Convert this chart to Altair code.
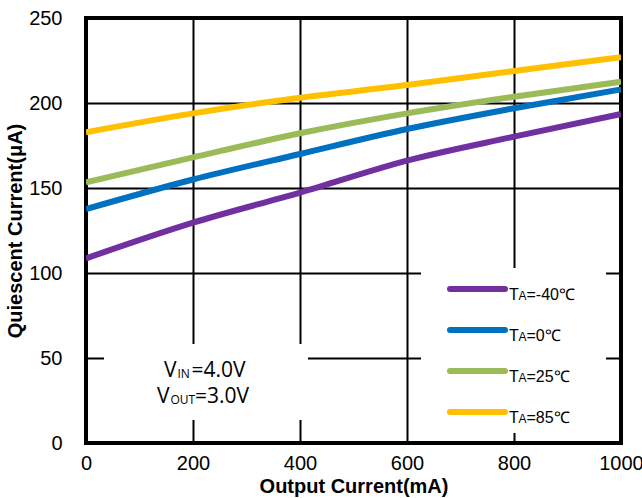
import altair as alt
import pandas as pd

# Quiescent current vs output current at four ambient temperatures
output_ma = [0, 200, 400, 600, 800, 1000]
iq_m40 = [108.6, 129.6, 147.3, 166.1, 180.2, 193.5]
iq_0 = [137.6, 155.0, 170.0, 184.7, 196.9, 208.0]
iq_25 = [153.3, 168.0, 182.2, 193.9, 203.7, 212.5]
iq_85 = [182.8, 193.9, 203.1, 210.6, 218.8, 226.9]

series_names = ["TA=-40℃", "TA=0℃", "TA=25℃", "TA=85℃"]
series_temps = ["=-40℃", "=0℃", "=25℃", "=85℃"]
series_colors = ["#7030A0", "#0070C0", "#9BBB59", "#FFC000"]
series_values = [iq_m40, iq_0, iq_25, iq_85]

x_ticks = [0, 200, 400, 600, 800, 1000]
y_ticks = [0, 50, 100, 150, 200, 250]

# plot-area geometry (pixels)
W, H = 535, 425
LEFT, TOP = 86, 18
X_MAX, Y_MAX = 1000, 250


def px_x(px):
    """page x pixel -> data x"""
    return (px - LEFT) / W * X_MAX


def px_y(py):
    """page y pixel -> data y"""
    return (TOP + H - py) / H * Y_MAX


rows = []
for name, vals in zip(series_names, series_values):
    for xv, yv in zip(output_ma, vals):
        rows.append({"Output": xv, "Iq": yv, "Series": name})
df = pd.DataFrame(rows)

x_scale = alt.Scale(domain=[0, X_MAX], nice=False, zero=False)
y_scale = alt.Scale(domain=[0, Y_MAX], nice=False, zero=False)
color_scale = alt.Scale(domain=series_names, range=series_colors)

axis_common = dict(
    grid=True, gridColor="black", gridWidth=2, gridOpacity=1,
    domain=False, ticks=False, labelFlush=False, format="d",
    labelFont="Liberation Sans", labelFontSize=20, labelColor="black",
    titleFont="Liberation Sans", titleFontSize=20, titleFontWeight="bold",
    titleColor="black",
)

base = alt.Chart(df)

lines = base.mark_line(strokeWidth=6, interpolate="monotone", clip=True).encode(
    x=alt.X("Output:Q", scale=x_scale,
            axis=alt.Axis(values=x_ticks, title="Output Current(mA)",
                          labelPadding=10, titlePadding=3, **axis_common)),
    y=alt.Y("Iq:Q", scale=y_scale,
            axis=alt.Axis(values=y_ticks, title="Quiescent Current(μA)",
                          labelPadding=24, titlePadding=3, **axis_common)),
    color=alt.Color("Series:N", scale=color_scale, legend=None),
    detail="Series:N",
)

# white panels behind the annotation and the key
boxes_df = pd.DataFrame([
    {"x0": px_x(104), "x1": px_x(308), "y0": px_y(420), "y1": px_y(344)},
    {"x0": px_x(421), "x1": px_x(606), "y0": px_y(433), "y1": px_y(268)},
])
boxes = alt.Chart(boxes_df).mark_rect(fill="white").encode(
    x=alt.X("x0:Q", scale=x_scale), x2="x1:Q",
    y=alt.Y("y0:Q", scale=y_scale), y2="y1:Q",
)

# key: coloured strokes and labels
row_py = [289, 330, 371, 412]
key_df = pd.DataFrame({
    "Series": series_names,
    "x0": [px_x(450)] * 4,
    "x1": [px_x(505)] * 4,
    "y": [px_y(p) for p in row_py],
})
key_lines = alt.Chart(key_df).mark_rule(strokeWidth=6, strokeCap="round").encode(
    x=alt.X("x0:Q", scale=x_scale), x2="x1:Q",
    y=alt.Y("y:Q", scale=y_scale),
    color=alt.Color("Series:N", scale=color_scale, legend=None),
)

big_txt = []
small_txt = []
for p, temp in zip(row_py, series_temps):
    big_txt.append({"x": px_x(509), "y": px_y(p + 11), "t": "T"})
    small_txt.append({"x": px_x(518.5), "y": px_y(p + 11), "t": "A"})
    big_txt.append({"x": px_x(526.5), "y": px_y(p + 11), "t": temp})

key_big = alt.Chart(pd.DataFrame(big_txt)).mark_text(
    align="left", baseline="alphabetic", font="Liberation Sans",
    fontSize=16, color="black").encode(
    x=alt.X("x:Q", scale=x_scale), y=alt.Y("y:Q", scale=y_scale), text="t:N")
key_small = alt.Chart(pd.DataFrame(small_txt)).mark_text(
    align="left", baseline="alphabetic", font="Liberation Sans",
    fontSize=12, color="black").encode(
    x=alt.X("x:Q", scale=x_scale), y=alt.Y("y:Q", scale=y_scale), text="t:N")

# supply conditions annotation
cond_big = pd.DataFrame([
    {"x": px_x(164), "y": px_y(377), "t": "V"},
    {"x": px_x(191.5), "y": px_y(377), "t": "=4.0V"},
    {"x": px_x(157), "y": px_y(403), "t": "V"},
    {"x": px_x(195), "y": px_y(403), "t": "=3.0V"},
])
cond_small = pd.DataFrame([
    {"x": px_x(177.5), "y": px_y(378), "t": "IN"},
    {"x": px_x(170.5), "y": px_y(404), "t": "OUT"},
])
cond_big_txt = alt.Chart(cond_big).mark_text(
    align="left", baseline="alphabetic", font="Open Sans",
    fontSize=21, color="black").encode(
    x=alt.X("x:Q", scale=x_scale), y=alt.Y("y:Q", scale=y_scale), text="t:N")
cond_small_txt = alt.Chart(cond_small).mark_text(
    align="left", baseline="alphabetic", font="Open Sans",
    fontSize=12, color="black").encode(
    x=alt.X("x:Q", scale=x_scale), y=alt.Y("y:Q", scale=y_scale), text="t:N")

chart = alt.layer(
    boxes, lines, key_lines, key_big, key_small, cond_big_txt, cond_small_txt
).properties(
    width=W, height=H,
    autosize=alt.AutoSizeParams(type="none"),
    padding={"left": LEFT, "top": TOP, "right": 642 - LEFT - W, "bottom": 498 - TOP - H},
    background="white",
).configure_view(
    stroke="black", strokeWidth=4,
)

chart.save("out.html", embed_options={"renderer": "svg", "actions": False})
